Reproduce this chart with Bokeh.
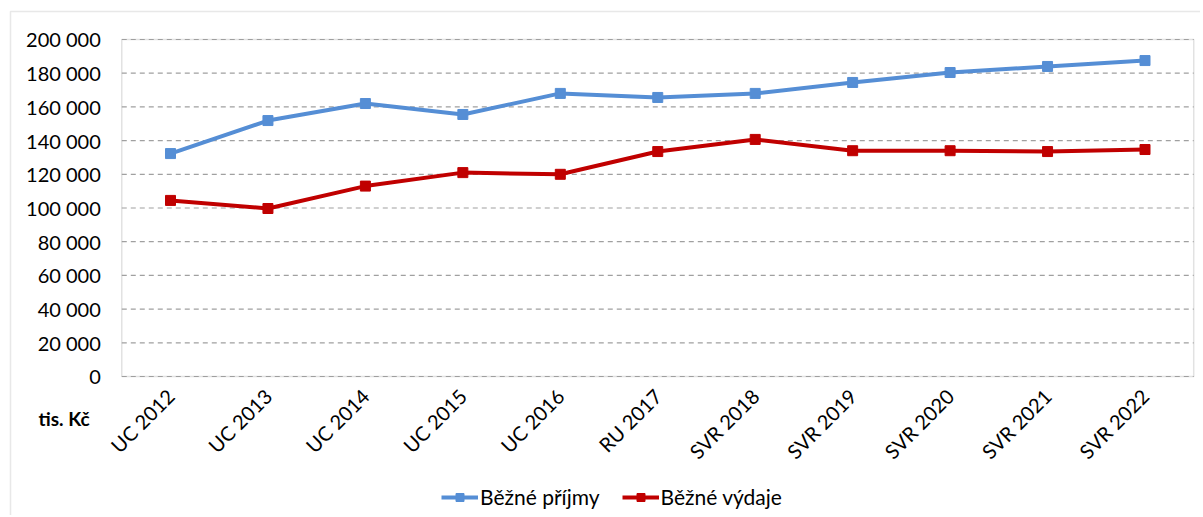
from bokeh.plotting import figure
from bokeh.models import (CustomJSTickFormatter, Legend, LegendItem, Label,
                          FixedTicker, ColumnDataSource, LinearAxis, BoxAnnotation)
from bokeh.embed import file_html
from bokeh.resources import INLINE
from math import pi

categories = ["UC 2012", "UC 2013", "UC 2014", "UC 2015", "UC 2016", "RU 2017",
              "SVR 2018", "SVR 2019", "SVR 2020", "SVR 2021", "SVR 2022"]
prijmy = [132300, 151900, 162000, 155500, 168000, 165600, 168000, 174500, 180400, 184000, 187500]
vydaje = [104500, 99700, 113000, 121000, 120000, 133500, 140700, 134000, 134000, 133500, 134700]
y_ticks = [0, 20000, 40000, 60000, 80000, 100000, 120000, 140000, 160000, 180000, 200000]
series_names = ["Běžné příjmy", "Běžné výdaje"]
unit_label = "tis. Kč"

FONT = "Lato"
BLUE = "#558ED5"
RED = "#C00000"
GRID = "#a0a0a0"

idx = list(range(len(categories)))
src = ColumnDataSource(dict(x=idx, p=prijmy, v=vydaje))

W, H = 1200, 515
# whole canvas is the frame; plot area spans categories -0.5..10.5 and 0..200000
x0, x1 = -0.5, len(categories) - 0.5
p = figure(width=W, height=H, x_range=(-1.7445, 10.5695), y_range=(-82493, 223145),
           output_backend="svg", toolbar_location=None,
           x_axis_location=None, y_axis_location=None,
           min_border_left=0, min_border_right=0, min_border_top=0, min_border_bottom=0)
p.outline_line_color = None
p.grid.grid_line_color = None

# outer chart border
p.add_layout(BoxAnnotation(left=10, right=W + 20, top=H - 11, bottom=-20,
                           left_units="screen", right_units="screen",
                           top_units="screen", bottom_units="screen",
                           fill_alpha=0, line_color="#b4b4b4", line_width=1.5))

# dashed horizontal gridlines across the plot area
p.segment(x0=[x0] * len(y_ticks), x1=[x1] * len(y_ticks), y0=y_ticks, y1=y_ticks,
          line_color=GRID, line_dash="5 4", line_width=1.2)

# plot area border
p.add_layout(BoxAnnotation(left=x0, right=x1, bottom=y_ticks[0], top=y_ticks[-1],
                           fill_alpha=0, line_color="#a0a0a0", line_width=1.5))

yax = LinearAxis(fixed_location=x0, ticker=FixedTicker(ticks=y_ticks),
                 formatter=CustomJSTickFormatter(
                     code="return tick.toFixed(0).replace(/\\B(?=(\\d{3})+(?!\\d))/g, ' ');"))
xax = LinearAxis(fixed_location=y_ticks[0], ticker=FixedTicker(ticks=idx),
                 major_label_overrides={i: c for i, c in zip(idx, categories)})
for ax in (xax, yax):
    ax.axis_line_color = None
    ax.major_tick_line_color = None
    ax.minor_tick_line_color = None
    ax.major_label_text_font = FONT
    ax.major_label_text_color = "#000000"
yax.major_label_text_font_size = "20px"
yax.major_label_standoff = 15
xax.major_label_text_font_size = "20px"
xax.major_label_orientation = pi / 4
xax.major_label_standoff = 10
p.add_layout(yax, "left")
p.add_layout(xax, "below")

r1l = p.line("x", "p", source=src, color=BLUE, line_width=4)
r1s = p.scatter("x", "p", source=src, marker="square", size=10, color=BLUE)
r2l = p.line("x", "v", source=src, color=RED, line_width=4)
r2s = p.scatter("x", "v", source=src, marker="square", size=10, color=RED)

legend = Legend(items=[LegendItem(label=series_names[0], renderers=[r1l, r1s]),
                       LegendItem(label=series_names[1], renderers=[r2l, r2s])],
                orientation="horizontal", location=(441, 6),
                label_text_font=FONT, label_text_font_size="21px",
                label_text_color="#000000",
                glyph_width=37, label_standoff=2, spacing=22, padding=4,
                margin=0, background_fill_alpha=0, border_line_color=None)
p.add_layout(legend, "center")

p.add_layout(Label(x=38, y=H - 418, x_units="screen", y_units="screen",
                   text=unit_label, text_baseline="middle", text_color="#000000",
                   text_font=FONT, text_font_size="19px", text_font_style="bold"))

open("out.html", "w").write(file_html(p, INLINE))
